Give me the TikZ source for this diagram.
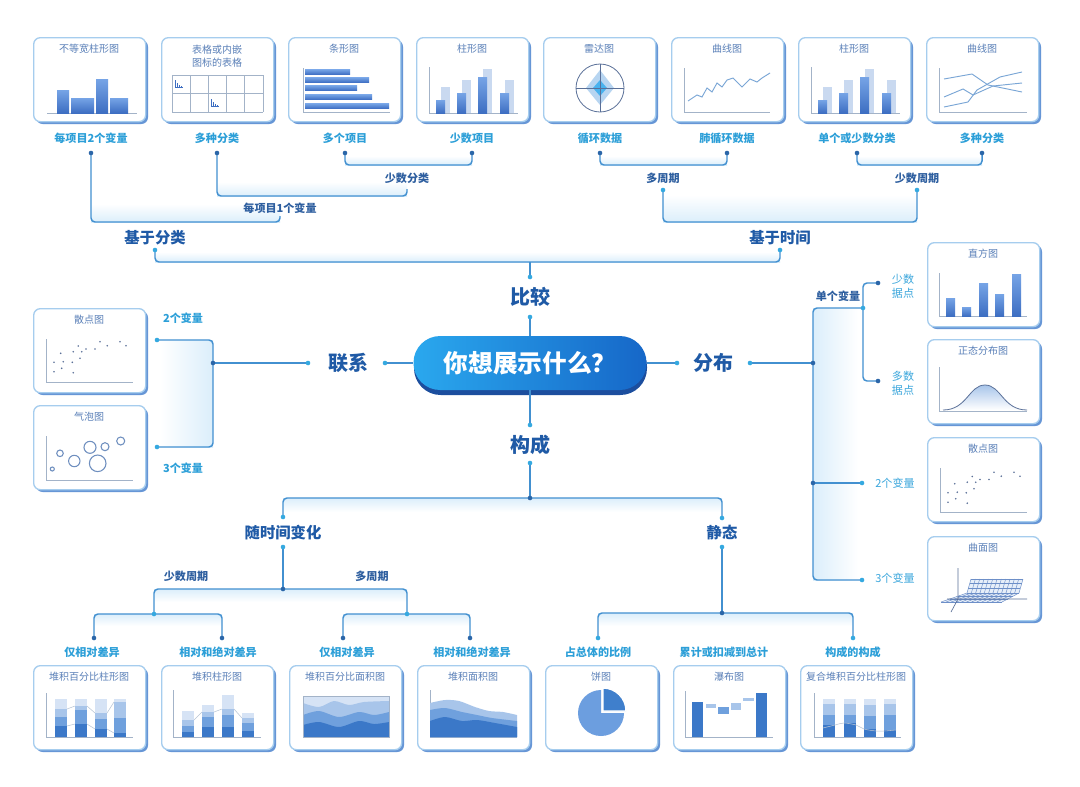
\documentclass[tikz,border=0pt]{standalone}
\usepackage{fontspec}
\setmainfont{Noto Sans CJK SC}
\usetikzlibrary{calc}
\definecolor{cardborder}{HTML}{A6CDEE}
\definecolor{cardshadow}{HTML}{6696D6}
\definecolor{titlec}{HTML}{5A80B8}
\definecolor{axc}{HTML}{A3B3C8}
\definecolor{bartop}{HTML}{76A4E6}
\definecolor{barbot}{HTML}{3D6EC2}
\definecolor{barlight}{HTML}{C9D9F0}
\definecolor{cA}{HTML}{D6E3F5}
\definecolor{cB}{HTML}{A8C5EA}
\definecolor{cC}{HTML}{6FA0DD}
\definecolor{cD}{HTML}{3B78C8}
\definecolor{linec}{HTML}{4290D0}
\definecolor{dotdark}{HTML}{2B66A8}
\definecolor{dotcyan}{HTML}{35A9E0}
\definecolor{leafc}{HTML}{2C9FD8}
\definecolor{midc}{HTML}{2D5E9F}
\definecolor{headc}{HTML}{1F5AA6}
\definecolor{rlabc}{HTML}{3AA6DC}
\definecolor{bandc}{HTML}{DBEEFB}
\definecolor{ptc}{HTML}{5A7098}
\definecolor{lchart}{HTML}{7AA6D6}
\definecolor{pillL}{HTML}{2AA8EE}
\definecolor{pillR}{HTML}{1667C8}
\definecolor{pillsh}{HTML}{1C4E9E}
\definecolor{radarL}{HTML}{B7D5F1}
\definecolor{radarD}{HTML}{4AB2EE}
\definecolor{meshc}{HTML}{6D8FC8}
\definecolor{piel}{HTML}{6C9EDF}
\definecolor{pied}{HTML}{3F7FCC}
\definecolor{faint}{HTML}{B8C4D4}
\definecolor{bubc}{HTML}{6F8FBF}

\newcommand\mkcard[5][12]{%
  \fill[cardshadow, rounded corners=5pt] (#3+3,#4+3) rectangle (#3+115,#4+87);
  \node[cardnode, anchor=north west] (#2) at (#3,#4) {};
  \node[ctitle] (#2t) at (#3+56,#4+#1) {#5};
}
\newcommand\stk[6]{%
  \fill[cA] (#1,#2) rectangle (#1+12,#3);
  \fill[cB] (#1,#3) rectangle (#1+12,#4);
  \fill[cC] (#1,#4) rectangle (#1+12,#5);
  \fill[cD] (#1,#5) rectangle (#1+12,#6);}
\newcommand\pairbars{%
  \draw[ax] (13,30) -- (13,76) -- (102,76);
  \foreach \x/\h/\l in {20/63/50, 41/56/43, 62/40/32, 84/56/43} {
    \fill[barlight] (\x+5,\l) rectangle (\x+14,76);
    \path[barg] (\x,\h) rectangle (\x+9,76);
  }}
\newcommand\miniicon[2]{%
  \draw[draw=barbot, line width=0.4pt] (#1,#2) -- (#1,#2+7) -- (#1+8,#2+7);
  \fill[barbot] (#1+1.5,#2+3) rectangle (#1+2.7,#2+7);
  \fill[barbot] (#1+3.5,#2+4.5) rectangle (#1+4.7,#2+7);
  \fill[barbot] (#1+5.5,#2+5.5) rectangle (#1+6.7,#2+7);}
\newcommand\scat[1]{%
  \foreach \px/\py in {27.7/45.3, 40.3/43.7, 45.3/38, 48.7/43.7, 53/41, 62/41, 67/33.7, 74.3/37.7, 87/33.7, 93/37.7, 21/54.3, 30.3/53.7, 39.3/54.3, 47/50.3, 21/63.7, 28.7/60.3, 40.3/64.7}
    \fill[ptc] (\px,\py+#1) circle[radius=0.9];}

\begin{document}
\begin{tikzpicture}[x=0.75pt,y=-0.75pt,
  conn/.style={draw=linec, line width=1.1pt, rounded corners=3pt},
  cardnode/.style={rectangle, draw=cardborder, fill=white, line width=1pt, rounded corners=5pt, minimum width=84pt, minimum height=63pt, inner sep=0pt},
  ctitle/.style={text=titlec, font=\fontsize{7.5}{10}\selectfont, align=center, inner sep=0pt},
  leaf/.style={text=leafc, font=\fontsize{8.3}{10}\selectfont\bfseries, inner sep=1pt},
  mid/.style={text=midc, font=\fontsize{8.3}{10}\selectfont\bfseries, inner sep=1pt},
  head/.style={text=headc, font=\fontsize{11.5}{13}\selectfont\bfseries, inner sep=1pt},
  big/.style={text=headc, font=\fontsize{15}{17}\selectfont\bfseries, inner sep=1pt},
  rlab/.style={text=rlabc, font=\fontsize{8.3}{10.5}\selectfont, align=center, inner sep=1pt},
  ax/.style={draw=axc, line width=0.6pt},
  barg/.style={top color=bartop, bottom color=barbot},
  lc/.style={draw=lchart, line width=0.7pt},
  band/.style={top color=bandc, bottom color=white, draw=none},
  pill/.style={rectangle, rounded corners=20pt, minimum width=174.75pt, minimum height=40.5pt, left color=pillL, right color=pillR, text=white, font=\fontsize{18.5}{20}\selectfont\bfseries, inner sep=0pt},
  mesh/.style={draw=meshc, line width=0.35pt}
]
\fill[white] (0,0) rectangle (1080,786);
\useasboundingbox (0,0) rectangle (1080,786);

% ---------- bands
\shade[top color=white, bottom color=bandc] (345,156) rectangle (472,165);
\shade[top color=white, bottom color=bandc] (217,182) rectangle (407,196);
\shade[top color=white, bottom color=bandc] (91,204) rectangle (280,222);
\shade[top color=white, bottom color=bandc] (600,156) rectangle (727,165);
\shade[top color=white, bottom color=bandc] (857,156) rectangle (982,165);
\shade[top color=white, bottom color=bandc] (663,195) rectangle (917,222);
\shade[top color=white, bottom color=bandc] (155,252) rectangle (780,262);
\shade[left color=white, right color=bandc] (160,340) rectangle (213,447);
\shade[left color=bandc, right color=white] (813,308) rectangle (858,580);
\shade[band] (283,498) rectangle (722,512);
\shade[band] (154,589) rectangle (407,602);
\shade[band] (94,614) rectangle (222,626);
\shade[band] (343,614) rectangle (470,626);
\shade[band] (598,613) rectangle (853,626);

% ---------- top cards
\mkcard{c1}{33}{37}{不等宽柱形图}
\begin{scope}[shift={(33,37)}]
  \draw[ax] (14,76) -- (104,76);
  \path[barg] (24,53) rectangle (36,76);
  \path[barg] (38,61) rectangle (61,76);
  \path[barg] (63,42) rectangle (75,76);
  \path[barg] (77,61) rectangle (95,76);
\end{scope}

\mkcard[19]{c2}{161}{37}{表格或内嵌\\图标的表格}
\begin{scope}[shift={(161,37)}]
  \foreach \i in {0,...,5} \draw[ax, line width=0.5pt] (11+\i*18.2,38) -- (11+\i*18.2,75);
  \foreach \j in {38,56.5,75} \draw[ax, line width=0.5pt] (11,\j) -- (102,\j);
  \miniicon{14}{43}
  \miniicon{50}{62}
\end{scope}

\mkcard{c3}{288}{37}{条形图}
\begin{scope}[shift={(288,37)}]
  \draw[ax] (15,31) -- (15,75) -- (102,75);
  \foreach \y/\e in {35/62,43/81,51/69,60/84,69/101} \path[barg] (17,\y-2.5) rectangle (\e,\y+2.5);
\end{scope}

\mkcard{c4}{416}{37}{柱形图}
\begin{scope}[shift={(416,37)}]
  \pairbars
\end{scope}

\mkcard{c5}{543}{37}{雷达图}
\begin{scope}[shift={(543,37)}]
  \fill[radarL] (57,33) -- (71,51) -- (57,68) -- (43,51) -- cycle;
  \fill[radarD] (57,43) -- (64,51) -- (57,59) -- (50,51) -- cycle;
  \draw[draw=ptc, line width=0.6pt] (57,51) circle[radius=24];
  \draw[draw=ptc, line width=0.5pt] (33,51) -- (81,51) (57,27) -- (57,75);
\end{scope}

\mkcard{c6}{671}{37}{曲线图}
\begin{scope}[shift={(671,37)}]
  \draw[ax] (13,31) -- (13,75) -- (99,75);
  \draw[lc] (17,64) -- (26,58) -- (31,60) -- (36,51) -- (41,55) -- (46,46) -- (51,50) -- (56,43) -- (62,41) -- (71,50) -- (79,42) -- (86,45) -- (91,41) -- (99,36);
\end{scope}

\mkcard{c7}{798}{37}{柱形图}
\begin{scope}[shift={(798,37)}]
  \pairbars
\end{scope}

\mkcard{c8}{926}{37}{曲线图}
\begin{scope}[shift={(926,37)}]
  \draw[ax] (13,31) -- (13,75) -- (101,75);
  \draw[lc] (18,42) -- (46,37) -- (62,48) -- (96,55);
  \draw[lc] (18,60) -- (37,52) -- (47,58) -- (67,49) -- (96,46);
  \draw[lc] (18,70) -- (42,65) -- (51,53) -- (74,40) -- (96,35);
\end{scope}

% ---------- left cards
\mkcard{lc1}{33}{308}{散点图}
\begin{scope}[shift={(33,308)}]
  \draw[ax] (13,31) -- (13,74) -- (100,74);
  \scat{0}
\end{scope}

\mkcard{lc2}{33}{405}{气泡图}
\begin{scope}[shift={(33,405)}]
  \draw[ax] (13,31) -- (13,75) -- (100,75);
  \foreach \bx/\by/\br in {27/48.3/3.3, 19.3/64/2, 41.3/56/5.7, 57/42.3/6, 72/41.7/4, 87.7/36/4, 64.7/58.3/8.3}
    \draw[draw=bubc, line width=0.8pt] (\bx,\by) circle[radius=\br];
\end{scope}

% ---------- right cards
\mkcard{rc1}{927}{242}{直方图}
\begin{scope}[shift={(927,242)}]
  \draw[ax] (12,31) -- (12,74) -- (100,74);
  \foreach \a/\h in {19/56, 35/65, 52/41, 68/52, 85/32} \path[barg] (\a,\h) rectangle (\a+9,74);
\end{scope}

\mkcard{rc2}{927}{339}{正态分布图}
\begin{scope}[shift={(927,339)}]
  \draw[ax] (12,28) -- (12,72) -- (100,72);
  \shade[top color=cB, bottom color=white] (16,71) .. controls (40,71) and (42,46) .. (58,46) .. controls (74,46) and (76,71) .. (100,71) -- cycle;
  \draw[draw=ptc, line width=0.6pt] (16,71) .. controls (40,71) and (42,46) .. (58,46) .. controls (74,46) and (76,71) .. (100,71);
\end{scope}

\mkcard{rc3}{927}{437}{散点图}
\begin{scope}[shift={(927,437)}]
  \draw[ax] (13,31) -- (13,75) -- (100,75);
  \scat{1.5}
\end{scope}

\mkcard{rc4}{927}{536}{曲面图}
\begin{scope}[shift={(927,536)}]
  \fill[cA, opacity=0.6] (44,43) -- (96,43) -- (92,57) -- (75,66) -- (14,66) -- (40,57) -- cycle;
  \foreach \i in {0,...,12} \draw[mesh] ($(44,43)!\i/12!(96,43)$) -- ($(40,57)!\i/12!(92,57)$);
  \foreach \j in {0,...,3} \draw[mesh] ($(44,43)!\j/3!(40,57)$) -- ($(96,43)!\j/3!(92,57)$);
  \foreach \i in {0,...,12} \draw[mesh] ($(40,57)!\i/12!(92,57)$) -- ($(14,66)!\i/12!(75,66)$);
  \foreach \j in {1,...,3} \draw[mesh] ($(40,57)!\j/3!(14,66)$) -- ($(92,57)!\j/3!(75,66)$);
  \draw[draw=ptc, line width=0.5pt] (31,32) -- (31,63) (20,63) -- (100,63) (31,63) -- (24,76);
\end{scope}

% ---------- bottom cards
\mkcard{bc1}{33}{665}{堆积百分比柱形图}
\begin{scope}[shift={(33,665)}]
  \draw[ax] (13,28) -- (13,72) -- (100,72);
  \draw[draw=faint, line width=0.4pt] (34,44) -- (42,41) (54,41) -- (62,48) (74,48) -- (81,37);
  \draw[draw=faint, line width=0.4pt] (34,61) -- (42,59) (54,59) -- (62,64) (74,64) -- (81,68);
  \stk{22}{34}{44}{52}{61}{72}
  \stk{42}{34}{41}{45}{59}{72}
  \stk{62}{34}{48}{54}{64}{72}
  \stk{81}{34}{37}{53}{68}{72}
\end{scope}

\mkcard{bc2}{161}{665}{堆积柱形图}
\begin{scope}[shift={(161,665)}]
  \draw[ax] (12,25) -- (12,72) -- (100,72);
  \draw[draw=faint, line width=0.4pt] (33,55) -- (41,47) (53,47) -- (61,44) (73,44) -- (81,53);
  \stk{21}{46}{55}{61}{67}{72}
  \stk{41}{40}{47}{52}{62}{72}
  \stk{61}{30}{44}{50}{62}{72}
  \stk{81}{48}{53}{58}{66}{72}
\end{scope}

\mkcard{bc3}{289}{665}{堆积百分比面积图}
\begin{scope}[shift={(289,665)}]
  \fill[cA] (14,31) rectangle (100,72);
  \fill[cB] plot[smooth] coordinates {(14,38) (30,42) (45,36) (60,40) (75,37) (100,36)} -- (100,72) -- (14,72) -- cycle;
  \fill[cC] plot[smooth] coordinates {(14,50) (30,46) (50,52) (70,47) (85,50) (100,47)} -- (100,72) -- (14,72) -- cycle;
  \fill[cD] plot[smooth] coordinates {(14,60) (30,57) (50,62) (70,56) (85,59) (100,57)} -- (100,72) -- (14,72) -- cycle;
  \draw[ax] (14,31) rectangle (100,72);
\end{scope}

\mkcard{bc4}{417}{665}{堆积面积图}
\begin{scope}[shift={(417,665)}]
  \draw[ax] (13,25) -- (13,72) -- (100,72);
  \fill[cB] plot[smooth] coordinates {(13,38) (28,35) (42,36) (58,42) (72,46) (86,47) (100,50)} -- (100,72) -- (13,72) -- cycle;
  \fill[cC] plot[smooth] coordinates {(13,45) (28,43) (45,47) (60,50) (75,53) (100,56)} -- (100,72) -- (13,72) -- cycle;
  \fill[cD] plot[smooth] coordinates {(13,56) (28,52) (45,56) (60,55) (78,58) (100,62)} -- (100,72) -- (13,72) -- cycle;
\end{scope}

\mkcard{bc5}{545}{665}{饼图}
\begin{scope}[shift={(545,665)}]
  \fill[piel] (56,48) -- ++(0,-23) arc[start angle=-90, end angle=-360, radius=23] -- cycle;
  \fill[pied, draw=white, line width=1pt] (58,46) -- ++(23,0) arc[start angle=0, end angle=-90, radius=23] -- cycle;
\end{scope}

\mkcard{bc6}{673}{665}{瀑布图}
\begin{scope}[shift={(673,665)}]
  \draw[ax] (12,26) -- (12,72) -- (100,72);
  \fill[cD] (19,37) rectangle (30,72);
  \fill[cB] (33,39) rectangle (43,43);
  \fill[cC] (45,42) rectangle (56,49);
  \fill[cB] (58,38) rectangle (68,45);
  \fill[cB] (70,33) rectangle (81,36);
  \fill[cD] (83,28) rectangle (94,72);
\end{scope}

\mkcard{bc7}{800}{665}{复合堆积百分比柱形图}
\begin{scope}[shift={(800,665)}]
  \draw[ax] (14,28) -- (14,72) -- (101,72);
  \stk{23}{34}{39}{50}{60}{72}
  \stk{44}{34}{39}{50}{58}{72}
  \stk{64}{34}{40}{51}{64}{72}
  \stk{84}{34}{39}{50}{65}{72}
  \draw[draw=faint, line width=0.4pt] plot[smooth] coordinates {(23,63) (35,60) (44,58) (56,60) (64,64) (76,66) (84,66) (96,65)};
\end{scope}

% ---------- center
\fill[pillsh, rounded corners=20pt] (414,340) rectangle (647,395);
\node[pill] (C) at (530,363) {你想展示什么？};

% ---------- coordinates
\coordinate (d1) at (91,153);  \coordinate (d2) at (217,153);
\coordinate (d3) at (345,153); \coordinate (d4) at (472,153);
\coordinate (d5) at (600,153); \coordinate (d6) at (727,153);
\coordinate (d7) at (857,153); \coordinate (d8) at (982,153);
\coordinate (m3b) at (663,190); \coordinate (m4b) at (917,190);
\coordinate (h1b) at (155,250); \coordinate (h2b) at (780,250);
\coordinate (cA) at (530,277); \coordinate (cB) at (530,317);
\coordinate (lA) at (385,363); \coordinate (lB) at (308,363); \coordinate (lJ) at (213,363);
\coordinate (lv2) at (157,340); \coordinate (lv3) at (157,447);
\coordinate (rA) at (677,363); \coordinate (rB) at (750,363); \coordinate (rJ) at (813,363);
\coordinate (r2J) at (813,483); \coordinate (r2) at (862,483); \coordinate (r3) at (862,580);
\coordinate (sJ) at (863,308); \coordinate (s1) at (878,283); \coordinate (s2) at (878,381);
\coordinate (kA) at (530,425); \coordinate (kB) at (530,463); \coordinate (kJ) at (530,498);
\coordinate (tA) at (283,517); \coordinate (tB) at (283,547); \coordinate (tJ) at (283,589);
\coordinate (tJ1) at (154,614); \coordinate (tJ2) at (407,614);
\coordinate (b1) at (94,638); \coordinate (b2) at (222,638);
\coordinate (b3) at (343,638); \coordinate (b4) at (470,638);
\coordinate (sA) at (722,518); \coordinate (sB) at (722,547); \coordinate (sJ2) at (722,613);
\coordinate (b5) at (598,638); \coordinate (b7) at (853,638);

% ---------- connectors
\draw[conn] (d3) -- (345,165) -- (472,165) -- (d4);
\draw[conn] (d2) -- (217,196) -- (407,196) -- (407,189);
\draw[conn] (d1) -- (91,222) -- (280,222) -- (280,216);
\draw[conn] (d5) -- (600,165) -- (727,165) -- (d6);
\draw[conn] (d7) -- (857,165) -- (982,165) -- (d8);
\draw[conn] (m3b) -- (663,222) -- (917,222) -- (m4b);
\draw[conn] (h1b) -- (155,262) -- (780,262) -- (h2b);
\draw[conn] (530,262) -- (cA);
\draw[conn] (cB) -- (C.north);
\draw[conn] (C.west) -- (lA);
\draw[conn] (lB) -- (lJ);
\draw[conn] (lv2) -- (213,340) -- (213,447) -- (lv3);
\draw[conn] (C.east) -- (rA);
\draw[conn] (rB) -- (rJ);
\draw[conn] (sJ) -- (813,308) -- (813,580) -- (r3);
\draw[conn] (r2J) -- (r2);
\draw[conn] (s1) -- (863,283) -- (863,381) -- (s2);
\draw[conn] (C.south) -- (kA);
\draw[conn] (kB) -- (kJ);
\draw[conn] (tA) -- (283,498) -- (722,498) -- (sA);
\draw[conn] (tB) -- (tJ);
\draw[conn] (tJ1) -- (154,589) -- (407,589) -- (tJ2);
\draw[conn] (b1) -- (94,614) -- (222,614) -- (b2);
\draw[conn] (b3) -- (343,614) -- (470,614) -- (b4);
\draw[conn] (sB) -- (sJ2);
\draw[conn] (b5) -- (598,613) -- (853,613) -- (b7);

% ---------- dots
\foreach \n in {d1,d2,d3,d4,d5,d6,d7,d8,lJ,rJ,r2J,s1,s2,kJ,tJ,b1,b2,b3,b4,sJ2}
  \fill[dotdark] (\n) circle[radius=2.3];
\foreach \n in {m3b,m4b,h1b,h2b,cA,cB,lA,lB,lv2,lv3,rA,rB,r2,r3,sJ,kA,kB,tA,tB,tJ1,tJ2,sA,sB,b5,b7}
  \fill[dotcyan] (\n) circle[radius=2.3];

% ---------- labels
\node[leaf] (L1) at (91,138) {每项目2个变量};
\node[leaf] (L2) at (217,138) {多种分类};
\node[leaf] (L3) at (345,138) {多个项目};
\node[leaf] (L4) at (472,138) {少数项目};
\node[leaf] (L5) at (600,138) {循环数据};
\node[leaf] (L6) at (727,138) {肺循环数据};
\node[leaf] (L7) at (857,138) {单个或少数分类};
\node[leaf] (L8) at (982,138) {多种分类};
\node[mid] (M1) at (407,178) {少数分类};
\node[mid] (M2) at (280,208) {每项目1个变量};
\node[mid] (M3) at (663,178) {多周期};
\node[mid] (M4) at (917,178) {少数周期};
\node[head] (H1) at (155,238) {基于分类};
\node[head] (H2) at (780,238) {基于时间};
\node[big] (K1) at (530,297) {比较};
\node[big] (K2) at (348,363) {联系};
\node[big] (K3) at (713,363) {分布};
\node[big] (K4) at (530,445) {构成};
\node[leaf] (V2) at (183,318) {2个变量};
\node[leaf] (V3) at (183,468) {3个变量};
\node[mid] (U1) at (838,296) {单个变量};
\node[rlab] (U2) at (903,286) {少数\\据点};
\node[rlab] (U3) at (903,383) {多数\\据点};
\node[rlab] (U4) at (895,483) {2个变量};
\node[rlab] (U5) at (895,578) {3个变量};
\node[head] (T1) at (283,533) {随时间变化};
\node[head] (T2) at (722,533) {静态};
\node[mid] (T3) at (186,576) {少数周期};
\node[mid] (T4) at (372,576) {多周期};
\node[leaf] (P1) at (92,652) {仅相对差异};
\node[leaf] (P2) at (218,652) {相对和绝对差异};
\node[leaf] (P3) at (347,652) {仅相对差异};
\node[leaf] (P4) at (472,652) {相对和绝对差异};
\node[leaf] (P5) at (598,652) {占总体的比例};
\node[leaf] (P6) at (724,652) {累计或扣减到总计};
\node[leaf] (P7) at (853,652) {构成的构成};
\end{tikzpicture}
\end{document}
